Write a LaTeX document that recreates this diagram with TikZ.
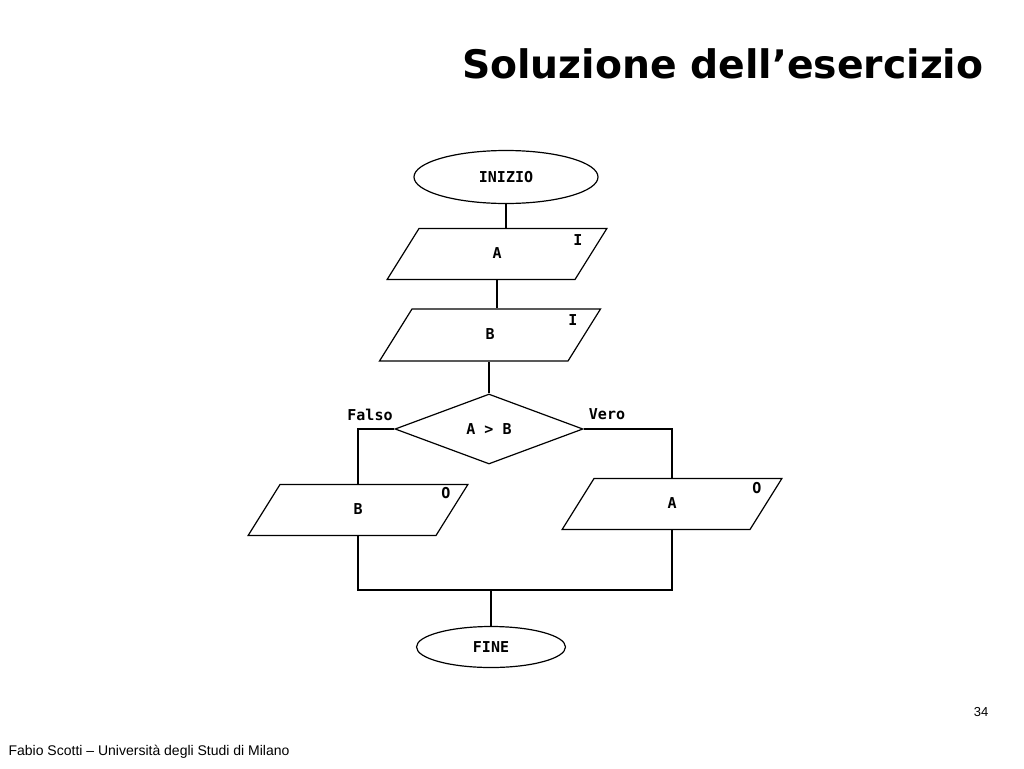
\documentclass[tikz,border=0pt]{standalone}
\usepackage{fontspec}
\setmainfont{DejaVu Sans}
\newfontfamily\footfont{Liberation Sans}
\newfontfamily\chartfont{DejaVu Sans Mono}
\usetikzlibrary{shapes.geometric, positioning}

\begin{document}
\begin{tikzpicture}
    [x=1pt, y=-1pt, line width=1.2pt,
     every node/.style={inner sep=0pt},
     lbl/.style={font=\chartfont\bfseries\fontsize{15}{15}\selectfont},
     terminal/.style={ellipse,draw,lbl},
     io/.style={trapezium,draw,lbl,trapezium left angle=58,
       trapezium right angle=122,text height=9pt,text depth=0pt,
       text width=9pt,align=center,inner xsep=73.5pt,inner ysep=21pt},
     test/.style={diamond,draw,lbl,aspect=2.7,minimum width=188pt,minimum height=70pt}]
    \useasboundingbox (0,0) rectangle (1024,768);

    \node (title) at (984,64) [anchor=east,font=\bfseries\fontsize{39.3}{40}\selectfont] {Soluzione dell’esercizio};

    \node (start) at (506,177) [terminal,minimum width=184pt,minimum height=53pt] {INIZIO};
    \node (inA) at (497,254) [io] {A};
    \node (tagA) at (578,240) [lbl] {I};
    \node (inB) at (490,335) [io,inner ysep=21.5pt] {B};
    \node (tagB) at (573,320) [lbl] {I};

    \node (cmp) at (489,429) [test] {A > B};
    \node (falso) at (370,415) [lbl] {Falso};
    \node (vero) at (607,414) [lbl] {Vero};

    \node (outB) at (358,510) [io] {B};
    \node (tagoB) at (446,493) [lbl] {O};
    \node (outA) at (672,504) [io] {A};
    \node (tagoA) at (757,488) [lbl] {O};

    \node (stop) at (491,647) [terminal,minimum width=149pt,minimum height=41pt] {FINE};

    \coordinate (join) at (491,590);

    \node (page) at (981,712) [font=\footfont\fontsize{13}{13}\selectfont] {34};
    \node (foot) at (8,752) [anchor=west,font=\footfont\fontsize{14}{14}\selectfont] {Fabio Scotti – Università degli Studi di Milano};

    \draw (start.south) -- (start.south |- inA.north);
    \draw (inA.south) -- (inA.south |- inB.north);
    \draw (cmp.north) -- (cmp.north |- inB.south);
    \draw (cmp.west) -| (outB.north);
    \draw (cmp.east) -| (outA.north);
    \draw (outB.south) |- (join);
    \draw (outA.south) |- (join);
    \draw (join) -- (stop.north);
    \end{tikzpicture}
\end{document}
